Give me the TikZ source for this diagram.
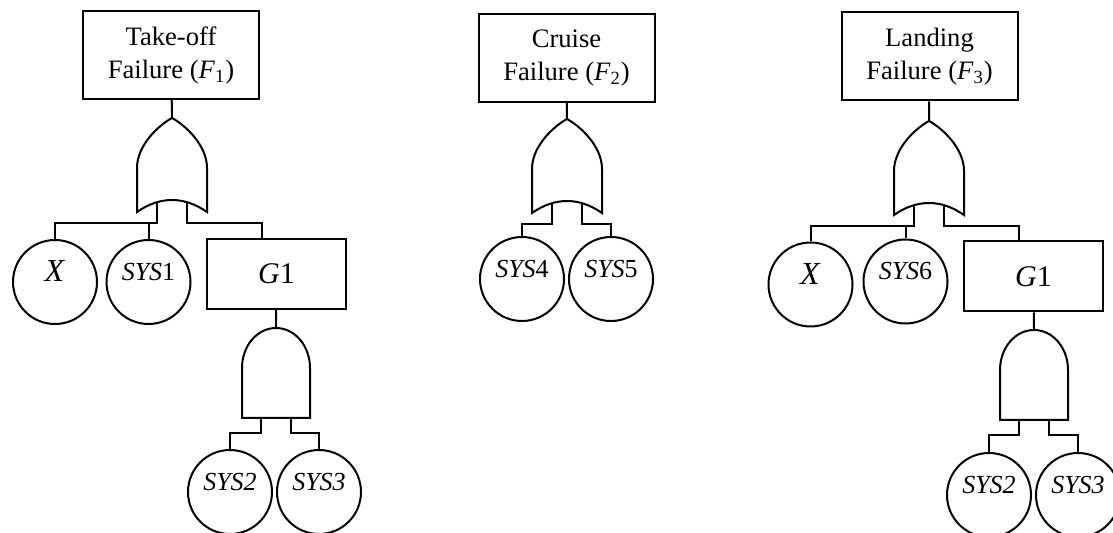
\documentclass[tikz,border=0pt]{standalone}
\usepackage{fontspec}
\setmainfont{Liberation Serif}
\usetikzlibrary{calc}

\begin{document}
\begin{tikzpicture}[x=0.5pt,y=-0.5pt,line width=1pt,
	evento/.style={draw, rectangle, minimum width=88pt, minimum height=44pt, inner sep=0pt, align=center, font=\fontsize{13.3}{16.5}\selectfont},
	caixa/.style={draw, rectangle, minimum width=69.5pt, minimum height=35pt, inner sep=0pt, font=\fontsize{15}{17}\selectfont},
	basico/.style={draw, circle, minimum size=42pt, inner sep=0pt, text height=8pt, text depth=9.5pt, font=\fontsize{13}{16}\selectfont},
	grande/.style={font=\fontsize{16}{18}\selectfont, text depth=8pt},
	portaou/.pic={
		\draw (-35,94) -- (-35,50) .. controls (-35,27) and (-13,7) .. (0,0)
			.. controls (13,7) and (35,27) .. (35,50) -- (35,94)
			.. controls (12,78) and (-12,78) .. (-35,94) -- cycle;
		\coordinate (-top) at (0,0);
		\coordinate (-in1) at (-15,84);
		\coordinate (-in2) at (15,84);
		\coordinate (-bus1) at (-15,105);
		\coordinate (-bus2) at (15,105);
	},
	portae/.pic={
		\draw (-34,90) -- (-34,40) .. controls (-34,18) and (-19,0) .. (0,0)
			.. controls (19,0) and (34,18) .. (34,40) -- (34,90) -- cycle;
		\coordinate (-top) at (0,0);
		\coordinate (-in1) at (-15,90);
		\coordinate (-in2) at (15,90);
		\coordinate (-bus1) at (-15,105);
		\coordinate (-bus2) at (15,105);
	}]
	\useasboundingbox (0,0) rectangle (1113,533);

	% decolagem
	\node[evento] (top1) at (171,55) {Take-off\\Failure (\textit{F}\textsubscript{1})};
	\pic (ou1) at (172,118) {portaou};
	\node[basico,grande] (x1) at (55,282) {\textit{X}};
	\node[basico] (sys1) at (148.5,282) {\textit{SYS}1};
	\node[caixa] (g1) at (276.5,274) {\textit{G}1};
	\pic (e1) at (276,328) {portae};
	\node[basico] (sys2) at (230,492) {\textit{SYS2}};
	\node[basico] (sys3) at (319,492) {\textit{SYS3}};
	\draw (top1) -- (ou1-top);
	\draw (ou1-in1) -- (ou1-bus1) -| (x1);
	\draw (ou1-bus1 -| sys1.north) -- (sys1);
	\draw (ou1-in2) -- (ou1-bus2) -| ([xshift=-7.5pt]g1.north);
	\draw (g1) -- (e1-top);
	\draw (e1-in1) -- (e1-bus1) -| (sys2);
	\draw (e1-in2) -- (e1-bus2) -| (sys3);

	% cruzeiro
	\node[evento] (top2) at (566.5,58) {Cruise\\Failure (\textit{F}\textsubscript{2})};
	\pic (ou2) at (567,119) {portaou};
	\node[basico] (sys4) at (522,279) {\textit{SYS}4};
	\node[basico] (sys5) at (611,279) {\textit{SYS}5};
	\draw (top2) -- (ou2-top);
	\draw (ou2-in1) -- (ou2-bus1) -| (sys4);
	\draw (ou2-in2) -- (ou2-bus2) -| (sys5);

	% pouso
	\node[evento] (top3) at (929.5,56.5) {Landing\\Failure (\textit{F}\textsubscript{3})};
	\pic (ou3) at (929,121) {portaou};
	\node[basico,grande] (x2) at (810.5,284.5) {\textit{X}};
	\node[basico] (sys6) at (905.5,281.5) {\textit{SYS}6};
	\node[caixa] (g2) at (1033.5,276.5) {\textit{G}1};
	\pic (e2) at (1034,330) {portae};
	\node[basico] (sys7) at (989,495) {\textit{SYS2}};
	\node[basico] (sys8) at (1078,495) {\textit{SYS3}};
	\draw (top3) -- (ou3-top);
	\draw (ou3-in1) -- (ou3-bus1) -| (x2);
	\draw (ou3-bus1 -| sys6.north) -- (sys6);
	\draw (ou3-in2) -- (ou3-bus2) -| ([xshift=-7.5pt]g2.north);
	\draw (g2) -- (e2-top);
	\draw (e2-in1) -- (e2-bus1) -| (sys7);
	\draw (e2-in2) -- (e2-bus2) -| (sys8);
\end{tikzpicture}
\end{document}
